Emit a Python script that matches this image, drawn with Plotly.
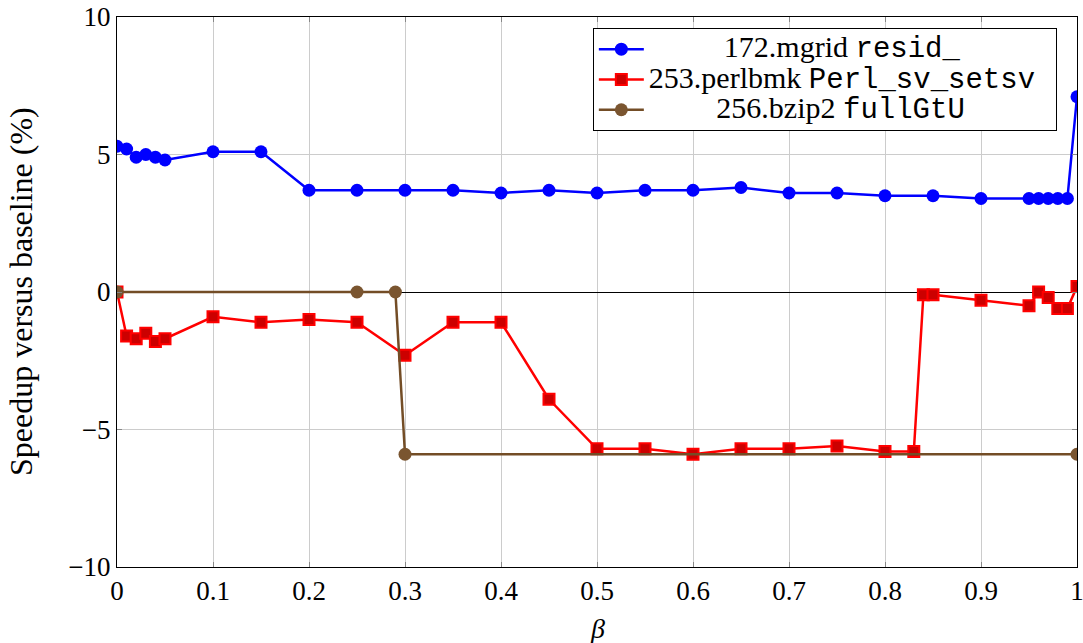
import plotly.graph_objects as go

# Data
x_mgrid = [0, 0.01, 0.02, 0.03, 0.04, 0.05, 0.1, 0.15, 0.2, 0.25, 0.3, 0.35, 0.4, 0.45, 0.5,
           0.55, 0.6, 0.65, 0.7, 0.75, 0.8, 0.85, 0.9, 0.95, 0.96, 0.97, 0.98, 0.99, 1.0]
y_mgrid = [5.3, 5.2, 4.9, 5.0, 4.9, 4.8, 5.1, 5.1, 3.7, 3.7, 3.7, 3.7, 3.6, 3.7, 3.6,
           3.7, 3.7, 3.8, 3.6, 3.6, 3.5, 3.5, 3.4, 3.4, 3.4, 3.4, 3.4, 3.4, 7.1]

x_perl = [0, 0.01, 0.02, 0.03, 0.04, 0.05, 0.1, 0.15, 0.2, 0.25, 0.3, 0.35, 0.4, 0.45, 0.5,
          0.55, 0.6, 0.65, 0.7, 0.75, 0.8, 0.83, 0.84, 0.85, 0.9, 0.95, 0.96, 0.97, 0.98, 0.99, 1.0]
y_perl = [0, -1.6, -1.7, -1.5, -1.8, -1.7, -0.9, -1.1, -1.0, -1.1, -2.3, -1.1, -1.1, -3.9, -5.7,
          -5.7, -5.9, -5.7, -5.7, -5.6, -5.8, -5.8, -0.1, -0.1, -0.3, -0.5, 0.0, -0.2, -0.6, -0.6, 0.2]

x_bzip = [0, 0.25, 0.29, 0.3, 1.0]
y_bzip = [0, 0, 0, -5.9, -5.9]

x_ticks = [0, 0.1, 0.2, 0.3, 0.4, 0.5, 0.6, 0.7, 0.8, 0.9, 1]
x_ticklabels = ["0", "0.1", "0.2", "0.3", "0.4", "0.5", "0.6", "0.7", "0.8", "0.9", "1"]
y_ticks = [-10, -5, 0, 5, 10]
y_ticklabels = ["\u221210", "\u22125", "0", "5", "10"]

series_bench = ["172.mgrid", "253.perlbmk", "256.bzip2"]
series_func = ["resid_", "Perl_sv_setsv", "fullGtU"]
x_title = "<i>β</i>"
y_title = "Speedup versus baseline (%)"

SERIF = "Liberation Serif"
SERIF_SPAN = "font-size:30px"
MONO_SPAN = "font-family:Liberation Mono;font-size:29px"
pads = [10, 0, 9]  # non-breaking spaces to centre the shorter legend lines


def legend_name(bench, func, pad):
    return (f'<span style="{SERIF_SPAN}">' + "\u00a0" * pad + f'{bench} </span>'
            f'<span style="{MONO_SPAN}">{func}</span>'
            f'<span style="{SERIF_SPAN}">' + "\u00a0" * (pad + 2) + '</span>')


names = [legend_name(b, f, p) for b, f, p in zip(series_bench, series_func, pads)]

fig = go.Figure()
fig.add_trace(go.Scatter(
    x=x_mgrid, y=y_mgrid, mode="lines+markers", name=names[0],
    line=dict(color="#0000ff", width=2.5),
    marker=dict(symbol="circle", size=13, color="#0000ff", line=dict(width=0)),
))
fig.add_trace(go.Scatter(
    x=x_perl, y=y_perl, mode="lines+markers", name=names[1],
    line=dict(color="#ff0000", width=2.5),
    marker=dict(symbol="square", size=11, color="#cc0000", line=dict(color="#ff0000", width=2)),
))
fig.add_trace(go.Scatter(
    x=x_bzip, y=y_bzip, mode="lines+markers", name=names[2],
    line=dict(color="#734d26", width=2.5),
    marker=dict(symbol="circle", size=13, color="#7a5530", line=dict(width=0)),
))

fig.update_layout(
    width=1083, height=643,
    margin=dict(l=117, r=6, t=17, b=76, autoexpand=False),
    plot_bgcolor="white", paper_bgcolor="white",
    font=dict(family=SERIF, size=26, color="black"),
    showlegend=True,
    legend=dict(
        x=0.979, y=0.98, xanchor="right", yanchor="top",
        bgcolor="white", bordercolor="black", borderwidth=1,
        font=dict(family=SERIF, size=21, color="black"),
        tracegroupgap=0, itemwidth=45,
    ),
    xaxis=dict(
        range=[0, 1], tickvals=x_ticks, ticktext=x_ticklabels,
        showgrid=True, gridcolor="#cccccc", gridwidth=1,
        showline=True, linecolor="black", linewidth=1, mirror="ticks",
        ticks="inside", ticklen=5, tickcolor="#888888",
        zeroline=False, automargin=False, ticklabeloverflow="allow",
        tickfont=dict(family=SERIF, size=27),
    ),
    yaxis=dict(
        range=[-10, 10], tickvals=y_ticks, ticktext=y_ticklabels,
        showgrid=True, gridcolor="#cccccc", gridwidth=1,
        showline=True, linecolor="black", linewidth=1, mirror="ticks",
        ticks="inside", ticklen=5, tickcolor="#888888",
        zeroline=True, zerolinecolor="black", zerolinewidth=1, automargin=False,
        ticklabeloverflow="allow",
        tickfont=dict(family=SERIF, size=27),
    ),
    annotations=[
        dict(text=y_title, xref="paper", yref="paper", x=0, y=0.5,
             xanchor="center", yanchor="middle", xshift=-96, textangle=-90,
             showarrow=False, font=dict(family=SERIF, size=32)),
        dict(text=x_title, xref="paper", yref="paper", x=0.5, y=0,
             xanchor="center", yanchor="middle", yshift=-61,
             showarrow=False, font=dict(family=SERIF, size=28)),
    ],
)

fig.write_html("out.html", config={"displayModeBar": False},
               post_script="document.body.style.margin='0';document.body.style.overflow='hidden';")
